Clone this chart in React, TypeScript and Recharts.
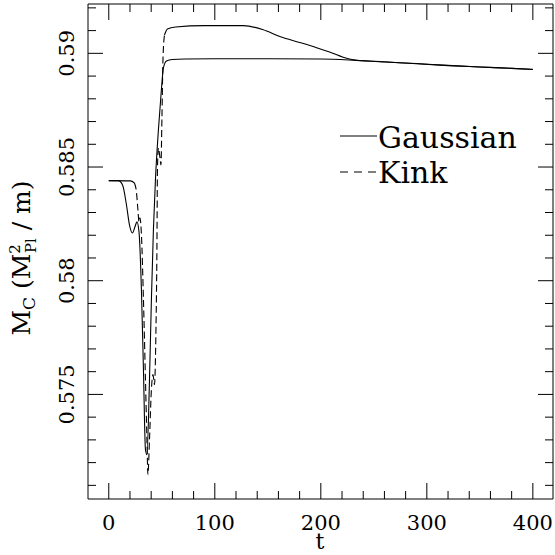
import { LineChart, Line, XAxis, YAxis, Legend } from 'recharts';

// Gaussian (solid) run
const gaussT = [0, 9, 13, 16.7, 19.5, 22.3, 24.7, 26.6, 28.5, 30.8, 32.7, 34.6, 36, 38.4, 40.2, 42.1, 44, 46.8, 49.6, 51.5, 54.4, 60, 72, 100, 150, 200, 230, 260, 290, 320, 350, 380, 400];
const gaussV = [0.5844, 0.5844, 0.58421, 0.58333, 0.58246, 0.5821, 0.58237, 0.58259, 0.58215, 0.5796, 0.57609, 0.57257, 0.57235, 0.57565, 0.57916, 0.58224, 0.58443, 0.58663, 0.58839, 0.58935, 0.58966, 0.58973, 0.58975, 0.58976, 0.58976, 0.58975, 0.5897, 0.58962, 0.58955, 0.58947, 0.5894, 0.58934, 0.58929];

// Kink (dashed) run
const kinkT = [0, 20.5, 24.2, 26.1, 27.5, 28.5, 29.4, 30.8, 32.7, 34.6, 36, 36.9, 38.4, 40.2, 41.7, 43.1, 44.5, 45.4, 45.9, 46.8, 48.3, 49.2, 50.1, 51.1, 52.5, 55.3, 63, 90, 127, 145, 162, 180, 196, 210, 221, 232, 260, 290, 320, 350, 380, 400];
const kinkV = [0.5844, 0.58439, 0.5843, 0.5839, 0.58311, 0.58259, 0.58277, 0.58202, 0.57917, 0.57565, 0.57301, 0.57147, 0.57301, 0.57521, 0.57587, 0.57543, 0.57785, 0.58136, 0.58487, 0.58584, 0.5854, 0.58509, 0.58707, 0.58971, 0.5908, 0.59107, 0.59116, 0.59122, 0.59122, 0.59105, 0.59073, 0.59048, 0.59025, 0.59003, 0.58983, 0.58971, 0.58963, 0.58954, 0.58946, 0.5894, 0.58934, 0.5893];

const xTicks = [0, 20, 40, 60, 80, 100, 120, 140, 160, 180, 200, 220, 240, 260, 280, 300, 320, 340, 360, 380, 400];
const yTicks = [0.571, 0.572, 0.573, 0.574, 0.575, 0.576, 0.577, 0.578, 0.579, 0.58, 0.581, 0.582, 0.583, 0.584, 0.585, 0.586, 0.587, 0.588, 0.589, 0.59, 0.591, 0.592];

const seriesNames = ['Gaussian', 'Kink'];

const gaussData = gaussT.map((t, i) => ({ t, v: gaussV[i] }));
// the kink curve is plotted from dense points, so only its steep stretch shows dashes
const kinkData = kinkT.map((t, i) => ({
  t,
  flat: t <= 24.2 || t >= 52.5 ? kinkV[i] : null,
  steep: t >= 24.2 && t <= 52.5 ? kinkV[i] : null,
}));

const FONT = 'DejaVu Serif';
const DASH = '7 3.5';

const majorX = (v: number) => Math.round(v) % 100 === 0;
const majorY = (v: number) => Math.round(v * 1000) % 5 === 0;

function BottomTick({ x, y, payload }: any) {
  const big = majorX(payload.value);
  return (
    <g>
      <line x1={x} x2={x} y1={y} y2={y - (big ? 16 : 8)} stroke="#000" />
      {big && (
        <text x={x} y={y + 31} textAnchor="middle" fontFamily={FONT} fontSize={21} fill="#000">
          {payload.value}
        </text>
      )}
    </g>
  );
}

function TopTick({ x, y, payload }: any) {
  const big = majorX(payload.value);
  return <line x1={x} x2={x} y1={y} y2={y + (big ? 16 : 8)} stroke="#000" />;
}

function LeftTick({ x, y, payload }: any) {
  const big = majorY(payload.value);
  return (
    <g>
      <line x1={x} x2={x + (big ? 15 : 8)} y1={y} y2={y} stroke="#000" />
      {big && (
        <g transform={`translate(${x - 14.5}, ${y}) rotate(-90)`}>
          <text x={0} y={0} textAnchor="middle" fontFamily={FONT} fontSize={21} fill="#000">
            {payload.value}
          </text>
        </g>
      )}
    </g>
  );
}

function RightTick({ x, y, payload }: any) {
  const big = majorY(payload.value);
  return <line x1={x} x2={x - (big ? 15 : 8)} y1={y} y2={y} stroke="#000" />;
}

const yTitle = () => (
  <g transform="translate(30, 258) rotate(-90)">
    <text x={0} y={0} textAnchor="middle" fontFamily={FONT} fontSize={25} fill="#000">
      M<tspan dy={5} fontSize={17}>C</tspan>
      <tspan dy={-5}> (M</tspan>
      <tspan dy={-10} fontSize={15}>2</tspan>
      <tspan dx={-9} dy={16} fontSize={15}>Pl</tspan>
      <tspan dy={-6}> / m)</tspan>
    </text>
  </g>
);

const xTitle = () => (
  <text x={320} y={549} textAnchor="middle" fontFamily={FONT} fontSize={22} fill="#000">
    t
  </text>
);

const renderLegend = () => (
  <svg width={200} height={75}>
    {seriesNames.map((name, i) => (
      <g key={name}>
        <line x1={0} x2={37} y1={18 + i * 36} y2={18 + i * 36} stroke="#000" strokeWidth={1.2} strokeDasharray={i === 1 ? '8 6' : undefined} />
        <text x={38} y={30 + i * 35} fontFamily={FONT} fontSize={30} fill="#000">
          {name}
        </text>
      </g>
    ))}
  </svg>
);

export default function App() {
  return (
    <div style={{ position: 'absolute', left: 0, top: 0, background: '#fff' }}>
      <LineChart width={555} height={555} margin={{ top: 0, right: 0, bottom: 0, left: 0 }}>
        <XAxis
          dataKey="t"
          type="number"
          domain={[-19.6, 419]}
          ticks={xTicks}
          interval={0}
          allowDataOverflow
          height={56}
          tickSize={0}
          tickMargin={0}
          tick={<BottomTick />}
          axisLine={{ stroke: '#000' }}
          label={xTitle}
        />
        <XAxis
          xAxisId="top"
          orientation="top"
          dataKey="t"
          type="number"
          domain={[-19.6, 419]}
          ticks={xTicks}
          interval={0}
          allowDataOverflow
          height={4}
          tickSize={0}
          tickMargin={0}
          tick={<TopTick />}
          axisLine={{ stroke: '#000' }}
        />
        <YAxis
          type="number"
          domain={[0.5704, 0.59217]}
          ticks={yTicks}
          interval={0}
          allowDataOverflow
          width={88}
          tickSize={0}
          tickMargin={0}
          tick={<LeftTick />}
          axisLine={{ stroke: '#000' }}
          label={yTitle}
        />
        <YAxis
          yAxisId="right"
          orientation="right"
          type="number"
          domain={[0.5704, 0.59217]}
          ticks={yTicks}
          interval={0}
          allowDataOverflow
          width={2}
          tickSize={0}
          tickMargin={0}
          tick={<RightTick />}
          axisLine={{ stroke: '#000' }}
        />
        <Legend
          layout="vertical"
          align="center"
          verticalAlign="middle"
          content={renderLegend}
          wrapperStyle={{ left: 340, top: 118, width: 200, height: 75 }}
        />
        <Line data={gaussData} dataKey="v" name={seriesNames[0]} type="monotone" stroke="#000" strokeWidth={1.1} dot={false} isAnimationActive={false} />
        <Line data={kinkData} dataKey="flat" name={seriesNames[1]} type="monotone" stroke="#000" strokeWidth={1.1} dot={false} isAnimationActive={false} />
        <Line data={kinkData} dataKey="steep" legendType="none" type="monotone" stroke="#000" strokeWidth={1.1} strokeDasharray={DASH} dot={false} isAnimationActive={false} />
      </LineChart>
    </div>
  );
}
